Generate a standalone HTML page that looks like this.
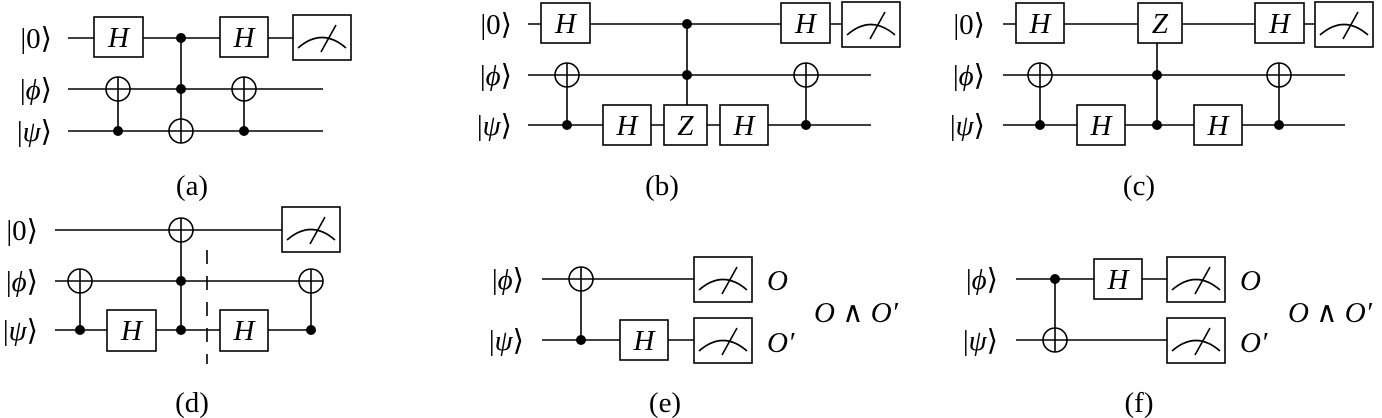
<!DOCTYPE html>
<html><head><meta charset="utf-8"><style>
html,body{margin:0;padding:0;background:#fff}
svg{display:block}
text{font-family:"Liberation Serif","DejaVu Serif",serif;font-size:29px;fill:#000}
.i{font-style:italic}
.g{font-size:28px}
</style></head><body>
<svg width="1382" height="418" viewBox="0 0 1382 418" xmlns="http://www.w3.org/2000/svg">
<defs>
<g id="m"><rect x="0" y="0" width="58" height="45" fill="#fff" stroke="#000" stroke-width="1.6"/><path d="M5,33 Q29,12 53,33" fill="none" stroke="#000" stroke-width="1.6"/><line x1="28" y1="37" x2="43" y2="10" stroke="#000" stroke-width="1.6"/></g>
<g id="t"><circle cx="0" cy="0" r="12" fill="#fff" stroke="#000" stroke-width="1.6"/><line x1="-12" y1="0" x2="12" y2="0" stroke="#000" stroke-width="1.6"/><line x1="0" y1="-12" x2="0" y2="12" stroke="#000" stroke-width="1.6"/></g>
</defs>
<g stroke="#000" stroke-width="1.6" fill="none">
<line x1="68" y1="38" x2="293" y2="38"/><line x1="68" y1="89" x2="323" y2="89"/><line x1="68" y1="131" x2="323" y2="131"/>
<line x1="118" y1="89" x2="118" y2="131"/><line x1="181" y1="38" x2="181" y2="131"/><line x1="244" y1="89" x2="244" y2="131"/>
<line x1="528" y1="24" x2="842" y2="24"/><line x1="528" y1="75" x2="871" y2="75"/><line x1="528" y1="125" x2="871" y2="125"/>
<line x1="567" y1="75" x2="567" y2="125"/><line x1="687" y1="24" x2="687" y2="105"/><line x1="806" y1="75" x2="806" y2="125"/>
<line x1="1003" y1="24" x2="1315" y2="24"/><line x1="1003" y1="75" x2="1345" y2="75"/><line x1="1003" y1="125" x2="1345" y2="125"/>
<line x1="1040" y1="75" x2="1040" y2="125"/><line x1="1157" y1="43" x2="1157" y2="125"/><line x1="1279" y1="75" x2="1279" y2="125"/>
<line x1="55" y1="230" x2="282" y2="230"/><line x1="55" y1="281" x2="323" y2="281"/><line x1="55" y1="330" x2="311" y2="330"/>
<line x1="80" y1="281" x2="80" y2="330"/><line x1="181" y1="230" x2="181" y2="330"/><line x1="311" y1="281" x2="311" y2="330"/>
<line x1="207" y1="250" x2="207" y2="364" stroke-dasharray="14,12"/>
<line x1="542" y1="279" x2="694" y2="279"/><line x1="542" y1="340" x2="694" y2="340"/><line x1="581" y1="279" x2="581" y2="340"/>
<line x1="1016" y1="279" x2="1167" y2="279"/><line x1="1016" y1="340" x2="1167" y2="340"/><line x1="1055" y1="279" x2="1055" y2="340"/>
</g>
<g fill="#fff" stroke="#000" stroke-width="1.6">
<rect x="94" y="17" width="49" height="40"/><rect x="220" y="17" width="48" height="40"/>
<rect x="541" y="3" width="49" height="40"/><rect x="781" y="3" width="49" height="40"/>
<rect x="603" y="105" width="48" height="40"/><rect x="664" y="105" width="43" height="40"/><rect x="720" y="105" width="48" height="40"/>
<rect x="1016" y="3" width="48" height="40"/><rect x="1138" y="3" width="44" height="40"/><rect x="1255" y="3" width="49" height="40"/>
<rect x="1077" y="105" width="48" height="40"/><rect x="1194" y="105" width="48" height="40"/>
<rect x="107" y="310" width="49" height="41"/><rect x="220" y="310" width="48" height="41"/>
<rect x="620" y="320" width="48" height="40"/><rect x="1094" y="259" width="48" height="40"/>
</g>
<g fill="#000">
<circle cx="181" cy="38" r="5"/><circle cx="181" cy="89" r="5"/><circle cx="118" cy="131" r="5"/><circle cx="244" cy="131" r="5"/>
<circle cx="687" cy="24" r="5"/><circle cx="687" cy="75" r="5"/><circle cx="567" cy="125" r="5"/><circle cx="806" cy="125" r="5"/>
<circle cx="1157" cy="75" r="5"/><circle cx="1157" cy="125" r="5"/><circle cx="1040" cy="125" r="5"/><circle cx="1279" cy="125" r="5"/>
<circle cx="181" cy="281" r="5"/><circle cx="181" cy="330" r="5"/><circle cx="80" cy="330" r="5"/><circle cx="311" cy="330" r="5"/>
<circle cx="581" cy="340" r="5"/><circle cx="1055" cy="279" r="5"/>
</g>
<use href="#t" x="118" y="89"/><use href="#t" x="181" y="131"/><use href="#t" x="244" y="89"/>
<use href="#t" x="567" y="75"/><use href="#t" x="806" y="75"/>
<use href="#t" x="1040" y="75"/><use href="#t" x="1279" y="75"/>
<use href="#t" x="181" y="230"/><use href="#t" x="80" y="281"/><use href="#t" x="311" y="281"/>
<use href="#t" x="581" y="279"/><use href="#t" x="1055" y="340"/>
<use href="#m" x="293" y="15"/><use href="#m" x="842" y="2"/><use href="#m" x="1315" y="2"/><use href="#m" x="282" y="207"/>
<use href="#m" x="694" y="257"/><use href="#m" x="694" y="318"/><use href="#m" x="1167" y="257"/><use href="#m" x="1167" y="318"/>
<g class="i g" text-anchor="middle">
<text x="118.5" y="47">H</text><text x="244" y="47">H</text>
<text x="565.5" y="33">H</text><text x="805.5" y="33">H</text>
<text x="627" y="135">H</text><text x="685.5" y="135">Z</text><text x="744" y="135">H</text>
<text x="1040" y="33">H</text><text x="1160" y="33">Z</text><text x="1279.5" y="33">H</text>
<text x="1101" y="135">H</text><text x="1218" y="135">H</text>
<text x="131.5" y="340">H</text><text x="244" y="340">H</text>
<text x="644" y="350">H</text><text x="1118" y="289">H</text>
</g>
<g text-anchor="end">
<text x="52" y="48">|0⟩</text><text x="52" y="99">|<tspan class="i">ϕ</tspan>⟩</text><text x="52" y="141">|<tspan class="i">ψ</tspan>⟩</text>
<text x="512" y="34">|0⟩</text><text x="512" y="85">|<tspan class="i">ϕ</tspan>⟩</text><text x="512" y="135">|<tspan class="i">ψ</tspan>⟩</text>
<text x="985" y="34">|0⟩</text><text x="985" y="85">|<tspan class="i">ϕ</tspan>⟩</text><text x="985" y="135">|<tspan class="i">ψ</tspan>⟩</text>
<text x="38" y="240">|0⟩</text><text x="38" y="291">|<tspan class="i">ϕ</tspan>⟩</text><text x="38" y="340">|<tspan class="i">ψ</tspan>⟩</text>
<text x="524" y="289">|<tspan class="i">ϕ</tspan>⟩</text><text x="524" y="350">|<tspan class="i">ψ</tspan>⟩</text>
<text x="998" y="289">|<tspan class="i">ϕ</tspan>⟩</text><text x="998" y="350">|<tspan class="i">ψ</tspan>⟩</text>
</g>
<g class="i">
<text x="767" y="290">O</text><text x="767" y="352">O′</text><text x="814" y="322">O <tspan font-style="normal">∧</tspan> O′</text>
<text x="1240" y="290">O</text><text x="1240" y="352">O′</text><text x="1288" y="322">O <tspan font-style="normal">∧</tspan> O′</text>
</g>
<g text-anchor="middle">
<text x="192" y="195">(a)</text><text x="662" y="195">(b)</text><text x="1139" y="195">(c)</text>
<text x="192" y="412">(d)</text><text x="665" y="412">(e)</text><text x="1139" y="412">(f)</text>
</g>
</svg>
</body></html>
